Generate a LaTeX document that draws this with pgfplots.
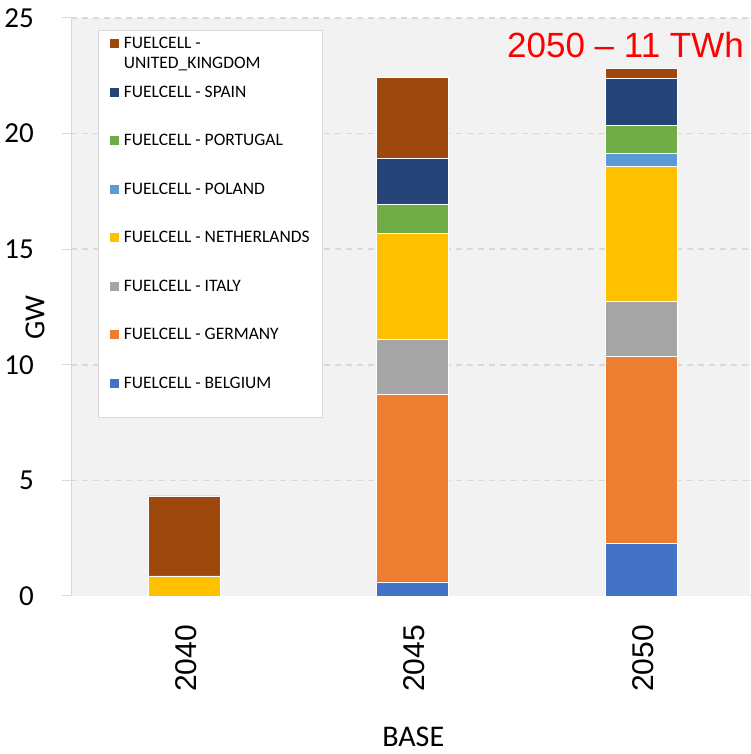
\documentclass[border=0pt]{standalone}
\usepackage{pgfplots}
\pgfplotsset{compat=1.18}
\usepackage{fontspec}
\setmainfont{Carlito}
\newfontfamily\arial{Liberation Sans}

\definecolor{plotbg}{HTML}{F2F2F2}
\definecolor{gridc}{HTML}{D9D9D9}
\definecolor{cBE}{HTML}{4472C4}
\definecolor{cDE}{HTML}{ED7D31}
\definecolor{cIT}{HTML}{A5A5A5}
\definecolor{cNL}{HTML}{FFC000}
\definecolor{cPL}{HTML}{5B9BD5}
\definecolor{cPT}{HTML}{70AD47}
\definecolor{cES}{HTML}{264478}
\definecolor{cUK}{HTML}{9E480E}

\pgfplotsset{
  seg/.style={fill=#1, draw=white, line width=0.5pt,
    legend image code/.code={\fill[fill=#1] (0pt,0pt) rectangle (10pt,10pt);}},
}

\begin{document}
\begin{tikzpicture}
\useasboundingbox (0,0) rectangle (750pt,754pt);
\begin{axis}[
  at={(71pt,158pt)}, anchor=south west,
  scale only axis, width=679pt, height=578pt,
  ybar stacked, bar width=72pt,
  xmin=-0.495, xmax=2.477,
  ymin=0, ymax=25,
  enlargelimits=false,
  axis background/.style={fill=plotbg},
  axis line style={draw=none},
  xtick={0,1,2}, xticklabels={2040,2045,2050},
  ytick={5,10,...,25},
  extra y ticks={0},
  extra y tick style={grid=none},
  tick align=outside, major tick length=9pt,
  xtick style={draw=none},
  ytick style={draw=gridc, line width=1pt},
  ymajorgrids,
  grid style={draw=gridc, line width=1.5pt, dash pattern=on 6pt off 5pt},
  /pgf/number format/assume math mode=true,
  yticklabel style={inner sep=0pt, xshift=-28pt, font=\fontsize{29}{29}\selectfont},
  % rotated labels: xshift runs along the text, i.e. vertically
  xticklabel style={rotate=90, anchor=east, inner sep=0pt, xshift=-20pt, yshift=-2pt,
    font=\arial\fontsize{30}{30}\selectfont},
  ylabel={GW},
  ylabel style={at={(axis description cs:-0.053,0.481)}, anchor=center,
    font=\fontsize{29}{29}\selectfont},
  xlabel={BASE},
  xlabel style={at={(axis description cs:0.504,-0.261)}, anchor=base,
    font=\fontsize{30}{30}\selectfont},
  reverse legend,
  legend style={at={(axis description cs:0.0398,0.979)}, anchor=north west,
    draw=gridc, line width=0.8pt, fill=white,
    inner xsep=11pt, inner ysep=4pt,
    row sep=31pt, column sep=2pt,
    font=\fontsize{17.5}{20}\selectfont,
    cells={anchor=base west, inner sep=0pt, text height=12pt}},
]
\addplot[seg=cBE] coordinates {(0,0) (1,0.61) (2,2.26)};
\addlegendentry[text depth=23pt]{FUELCELL - BELGIUM}
\addplot[seg=cDE] coordinates {(0,0) (1,8.11) (2,8.13)};
\addlegendentry{FUELCELL - GERMANY}
\addplot[seg=cIT] coordinates {(0,0) (1,2.37) (2,2.37)};
\addlegendentry{FUELCELL - ITALY}
\addplot[seg=cNL] coordinates {(0,0.87) (1,4.58) (2,5.81)};
\addlegendentry{FUELCELL - NETHERLANDS}
\addplot[seg=cPL] coordinates {(0,0) (1,0) (2,0.58)};
\addlegendentry{FUELCELL - POLAND}
\addplot[seg=cPT] coordinates {(0,0) (1,1.26) (2,1.22)};
\addlegendentry{FUELCELL - PORTUGAL}
\addplot[seg=cES] coordinates {(0,0) (1,2.00) (2,2.03)};
\addlegendentry{FUELCELL - SPAIN}
\addplot[seg=cUK] coordinates {(0,3.46) (1,3.49) (2,0.42)};
\addlegendentry{\raisebox{0pt}[\height][0pt]{\begin{tabular}[t]{@{}l@{}}FUELCELL -\\UNITED\_KINGDOM\end{tabular}}}
% left axis line
\draw[gridc, line width=1pt] (axis description cs:0,0) -- (axis description cs:0,1);
% annotation
\node[anchor=base west, inner sep=0pt, text=red, font=\arial\fontsize{35}{35}\selectfont]
  at (axis description cs:0.642,0.931) {2050 – 11 TWh};
\end{axis}
\end{tikzpicture}
\end{document}
